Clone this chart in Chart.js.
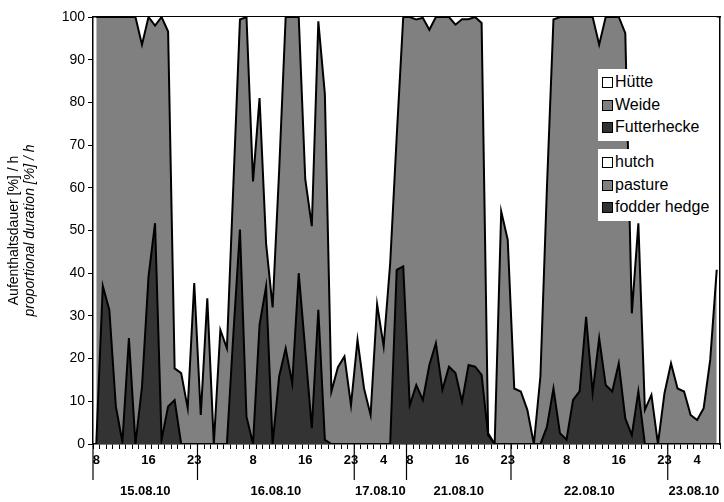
<!DOCTYPE html>
<html>
<head>
<meta charset="utf-8">
<script src="https://cdn.jsdelivr.net/npm/chart.js@4"></script>
<style>
  body { margin: 0; background: #fff; }
  #wrap { position: relative; width: 724px; height: 502px; }
  .legend { position: absolute; background: #fff; font-family: "Liberation Sans", Arial, sans-serif; font-size: 16px; line-height: 22.5px; padding: 2px 4px 2px 4px; }
  .legend div { white-space: nowrap; }
  .sw { display: inline-block; width: 9px; height: 9px; border: 1.5px solid #000; margin-right: 2px; vertical-align: -1px; }
</style>
</head>
<body>
<div id="wrap">
  <canvas id="chart" width="724" height="502"></canvas>
  <div class="legend" style="left:598px;top:69px;">
    <div><span class="sw" style="background:#fff"></span>Hütte</div>
    <div><span class="sw" style="background:#808080"></span>Weide</div>
    <div><span class="sw" style="background:#333"></span>Futterhecke</div>
  </div>
  <div class="legend" style="left:598px;top:149px;">
    <div><span class="sw" style="background:#fff"></span>hutch</div>
    <div><span class="sw" style="background:#808080"></span>pasture</div>
    <div><span class="sw" style="background:#333"></span>fodder hedge</div>
  </div>
</div>
<script>
// days and the hours recorded on each
const days      = ["15.08.10", "16.08.10", "17.08.10", "21.08.10", "22.08.10", "23.08.10"];
const dayStart  = [8, 0, 0, 8, 0, 0];
const dayEnd    = [23, 23, 7, 23, 23, 7];
const shownFull  = [8, 16, 23];   // hour labels on long days
const shownShort = [4];           // hour labels on short days
const yTicks = [0, 10, 20, 30, 40, 50, 60, 70, 80, 90, 100];

// % per hour
const futterhecke = [
  0, 37, 31.4, 8.8, 0.5, 24.8, 0, 13.4, 39.2, 51.7, 1, 8.8, 10.3, 0, 0, 0, 0, 0, 0, 0, 0, 26, 50.2, 6.4,
  0, 27.9, 36.9, 0, 15.8, 22.4, 14.2, 40, 22, 3.7, 31.4, 1, 0, 0, 0, 0, 0, 0, 0, 0, 0, 0, 40.8, 41.6,
  9.1, 13.8, 10.3, 18.5, 23.6, 12.7, 18.1, 16.6, 9.9, 18.5, 18.1, 16.2, 2.1, 0, 0, 0, 0, 0, 0, 0, 0, 4, 13, 2.5,
  1, 10.3, 12.3, 29.8, 12, 24.8, 13.8, 12.3, 18.9, 6, 2.1, 12.3, 0, 0, 0, 0, 0, 0, 0, 0, 0, 0, 0, 0
];
const weide = [
  100, 63, 68.6, 91.2, 99.5, 75.2, 100, 80.1, 60.8, 46.3, 99, 87.8, 7.4, 16.6, 8.4, 37.7, 6.8, 34.1, 0, 26.7, 22.4, 35, 49.2, 93.6,
  61.5, 53.1, 10.1, 32, 48.2, 77.6, 85.8, 60, 40, 47.3, 67.6, 81, 12.3, 18, 20.5, 9.1, 24.4, 13, 6.8, 32.7, 22.9, 42.3, 31.2, 58.4,
  90.9, 85.6, 89.5, 78.5, 76.4, 87.3, 81.9, 81.6, 89.6, 81, 81.9, 82.4, 0.4, 0, 54.5, 47.8, 13, 12.3, 8, 0, 15.8, 56, 86.4, 97.5,
  99, 89.7, 87.7, 70.2, 88, 68.7, 86.2, 87.7, 81.1, 90.2, 28.5, 39.4, 8, 11.5, 0, 11.9, 18.9, 13, 12.3, 6.8, 5.6, 8.4, 19.7, 40.8
];
const huette = [
  0, 0, 0, 0, 0, 0, 0, 6.5, 0, 2, 0, 3.4, 82.3, 83.4, 91.6, 62.3, 93.2, 65.9, 100, 73.3, 77.6, 39, 0.6, 0,
  38.5, 19, 53, 68, 36, 0, 0, 0, 38, 49, 1, 18, 87.7, 82, 79.5, 90.9, 75.6, 87, 93.2, 67.3, 77.1, 57.7, 28, 0,
  0, 0.6, 0.2, 3, 0, 0, 0, 1.8, 0.5, 0.5, 0, 1.4, 97.5, 100, 45.5, 52.2, 87, 87.7, 92, 100, 84.2, 40, 0.6, 0,
  0, 0, 0, 0, 0, 6.5, 0, 0, 0, 3.8, 69.4, 48.3, 92, 88.5, 100, 88.1, 81.1, 87, 87.7, 93.2, 94.4, 91.6, 80.3, 59.2
];

const hours = [], dayOf = [];
days.forEach((d, k) => {
  for (let h = dayStart[k]; h <= dayEnd[k]; h++) { hours.push(h); dayOf.push(k); }
});
const FONT = "'Liberation Sans', Arial, sans-serif";

const dayPlugin = {
  id: "dayPlugin",
  afterDraw(chart) {
    const x = chart.scales.x, ctx = chart.ctx, bottom = chart.chartArea.bottom;
    const half = (x.getPixelForValue(1) - x.getPixelForValue(0)) / 2;
    ctx.save();
    ctx.strokeStyle = "#000"; ctx.lineWidth = 1.2;
    ctx.fillStyle = "#000"; ctx.font = "bold 13px " + FONT;
    ctx.textAlign = "center"; ctx.textBaseline = "middle";
    let i0 = 0;
    days.forEach((d, k) => {
      const n = dayEnd[k] - dayStart[k] + 1;
      const l = x.getPixelForValue(i0) - half, r = x.getPixelForValue(i0 + n - 1) + half;
      ctx.beginPath(); ctx.moveTo(l, bottom); ctx.lineTo(l, bottom + 36); ctx.stroke();
      ctx.fillText(d, (l + r) / 2, bottom + 47);
      i0 += n;
    });
    // y axis title
    const yc = (chart.chartArea.top + bottom) / 2;
    ctx.translate(22, yc); ctx.rotate(-Math.PI / 2);
    ctx.font = "14px " + FONT;
    ctx.fillText("Aufenthaltsdauer [%] / h", 0, -8);
    ctx.font = "italic 14px " + FONT;
    ctx.fillText("proportional duration [%] / h", 0, 8);
    ctx.restore();
  }
};

const area = (label, data, bg, fill) => ({
  label, data, backgroundColor: bg, borderColor: "#000", borderWidth: 2,
  fill, pointRadius: 0, tension: 0, stack: "a"
});

new Chart(document.getElementById("chart"), {
  type: "line",
  data: {
    labels: hours,
    datasets: [
      area("Futterhecke", futterhecke, "#333333", "origin"),
      area("Weide", weide, "#808080", "-1"),
      { ...area("Hütte", huette, "#ffffff", "-1"), borderWidth: 0 }
    ]
  },
  options: {
    responsive: false, animation: false,
    layout: { padding: { top: 17, right: 2, left: 0, bottom: 0 } },
    plugins: { legend: { display: false }, tooltip: { enabled: false } },
    scales: {
      x: {
        offset: true,
        grid: { drawOnChartArea: false, offset: true, tickLength: 5, color: "#000" },
        border: { color: "#000", width: 1.5 },
        afterFit: s => { s.height = 58; },
        ticks: {
          autoSkip: false, maxRotation: 0, padding: 4,
          color: "#000", font: { family: FONT, size: 13, weight: "bold" },
          callback: (v, i) => {
            const short = dayEnd[dayOf[i]] - dayStart[dayOf[i]] < 10;
            return (short ? shownShort : shownFull).includes(hours[i]) ? String(hours[i]) : "";
          }
        }
      },
      y: {
        stacked: true, min: 0, max: 100,
        afterFit: s => { s.width = 93; },
        afterBuildTicks: s => { s.ticks = yTicks.map(v => ({ value: v })); },
        grid: { drawOnChartArea: false, tickLength: 5, color: "#000" },
        border: { color: "#000", width: 1.5 },
        ticks: { color: "#000", font: { family: FONT, size: 14 }, padding: 3 }
      },
      y2: {
        position: "right", min: 0, max: 100,
        afterFit: s => { s.width = 2; },
        afterBuildTicks: s => { s.ticks = yTicks.map(v => ({ value: v })); },
        grid: { drawOnChartArea: false, drawTicks: false },
        border: { color: "#000", width: 1.5 },
        ticks: { display: false }
      },
      top: {
        position: "top", type: "category", labels: hours,
        grid: { display: false }, border: { color: "#000", width: 1.5 },
        ticks: { display: false }, afterFit: s => { s.height = 0; }
      }
    }
  },
  plugins: [dayPlugin]
});
</script>
</body>
</html>
